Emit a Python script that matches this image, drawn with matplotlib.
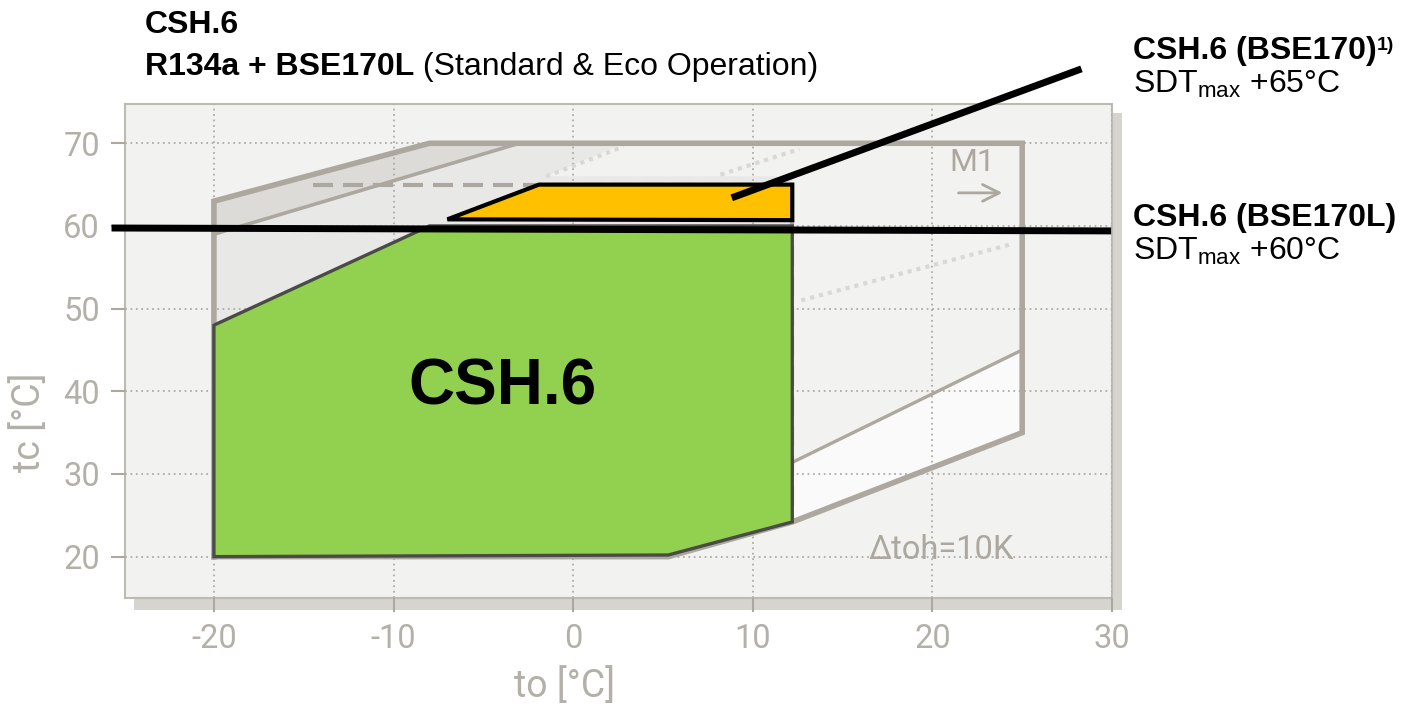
import matplotlib
matplotlib.use("Agg")
import matplotlib.pyplot as plt
from matplotlib.patches import Polygon, Rectangle

plt.rcParams["axes.unicode_minus"] = False
plt.rcParams["mathtext.fontset"] = "custom"
plt.rcParams["mathtext.rm"] = "Liberation Sans"
plt.rcParams["mathtext.bf"] = "Liberation Sans:bold"

# ===== Data =====
to_ticks = [-20, -10, 0, 10, 20, 30]
tc_ticks = [20, 30, 40, 50, 60, 70]

# outer application envelope (grey, M1)
env_to = [-20, -20, -8, 25, 25, 12.2, 5.3, -20]
env_tc = [20, 63, 70, 70, 35, 24.2, 20, 20]

# darker band along the upper-left border
band_to = [-20, -20, -8, -3]
band_tc = [59, 63, 70, 70]

# light grey inner area
light_to = [-20, -20, -3, 2.8, -1.5, 12.2, 12.2, 5.3]
light_tc = [20, 59, 70, 70, 66, 66, 24.2, 20]

# white band lower right
white_to = [12.2, 25, 25, 12.2]
white_tc = [24.2, 35, 45, 31.4]

# dashed limit (SDT 65)
dash_to = [-14.5, 12.2, 12.2]
dash_tc = [65, 65, 24.2]

# faint dotted lines
dot_segments = [([-1.5, 2.8], [66, 69.6]),
                ([8.2, 12.6], [66.2, 69.3]),
                ([12.7, 24.4], [51, 57.8])]

# CSH.6 with BSE170L (green)
green_to = [-20, -20, -8, 12.2, 12.2, 5.3]
green_tc = [20, 48, 60, 60, 24.2, 20.2]

# extension with BSE170 (orange)
orange_to = [-7, -1.9, 12.2, 12.2]
orange_tc = [60.8, 65, 65, 60.7]

# SDT max line and leader line
sdt_line_to = [-25.7, 29.95]
sdt_line_tc = [59.75, 59.4]
leader_to = [8.83, 28.3]
leader_tc = [63.4, 79.0]

# ===== Colours =====
GREY_LINE = "#aca89f"
GREY_TEXT = "#b3b0a9"
BG = "#f2f2f0"

fig = plt.figure(figsize=(14.05, 7.06), dpi=100)
W, H = 1405, 706

# drop shadow of the plot frame
shadow = Rectangle((134 / W, 1 - 610 / H), 988 / W, 497 / H,
                   transform=fig.transFigure, facecolor="#d6d4cf",
                   edgecolor="none", zorder=-1)
fig.patches.append(shadow)

ax = fig.add_axes([125 / W, 1 - 598 / H, 987 / W, 494 / H])
ax.set_facecolor(BG)
ax.set_xlim(-24.95, 29.9)
ax.set_ylim(15.0, 74.75)
ax.set_xticks(to_ticks)
ax.set_yticks(tc_ticks)
for s in ax.spines.values():
    s.set_color("#bdbab3")
    s.set_linewidth(1.5)

ax.set_axisbelow(False)
ax.grid(True, linestyle=(0, (1, 2)), color="#b0ada6", linewidth=1.3)
ax.tick_params(axis="both", length=10, width=1.5, color=GREY_LINE,
               labelcolor=GREY_TEXT, labelsize=23.5, pad=8)
for lab in ax.get_xticklabels() + ax.get_yticklabels():
    lab.set_fontfamily("Roboto")

ax.set_xlabel("to [°C]", fontsize=27, color=GREY_TEXT, family="Roboto")
ax.set_ylabel("tc [°C]", fontsize=27, color=GREY_TEXT, family="Roboto")
ax.xaxis.set_label_coords(0.4458, -0.140)
ax.yaxis.set_label_coords(-0.078, 0.356)

# grey background envelope
ax.add_patch(Polygon(list(zip(light_to, light_tc)), closed=True,
                     facecolor="#e8e8e6", edgecolor="none", zorder=1))
ax.add_patch(Polygon(list(zip(band_to, band_tc)), closed=True,
                     facecolor="#dcdbd7", edgecolor="none", zorder=1.2))
ax.add_patch(Polygon(list(zip(white_to, white_tc)), closed=True,
                     facecolor="#fafafa", edgecolor="none", zorder=1.2))
ax.plot(band_to[0::3], band_tc[0::3], color=GREY_LINE, lw=2.6, zorder=3)
ax.plot([white_to[0], white_to[2]], [white_tc[3], white_tc[2]],
        color=GREY_LINE, lw=2.4, zorder=3)
for xs, ys in dot_segments:
    ax.plot(xs, ys, color="#d9d8d4", lw=3, linestyle=(0, (1, 1.2)), zorder=3)
ax.plot(dash_to, dash_tc, color=GREY_LINE, lw=3, linestyle=(0, (4.8, 2.4)),
        zorder=3)
ax.plot(env_to, env_tc, color=GREY_LINE, lw=4, zorder=3.2,
        solid_joinstyle="miter")

ax.text(22.2, 67.7, "M1", fontsize=23, color=GREY_LINE, family="Roboto",
        ha="center", va="center", zorder=3)
ax.annotate("", xy=(24.05, 64.0), xytext=(21.3, 64.0),
            arrowprops=dict(arrowstyle="->", color=GREY_LINE, lw=2,
                            mutation_scale=30), zorder=3)
ax.text(20.5, 20.8, "Δtoh=10K", fontsize=23.5, color=GREY_LINE,
        family="Roboto", ha="center", va="center", zorder=3)

# operating ranges
ax.add_patch(Polygon(list(zip(green_to, green_tc)), closed=True,
                     facecolor="#92d050", edgecolor="#4a4a46", lw=2.4,
                     zorder=4))
ax.add_patch(Polygon(list(zip(orange_to, orange_tc)), closed=True,
                     facecolor="#ffc000", edgecolor="black", lw=3,
                     zorder=4))
ax.text(-3.94, 38.4, "CSH.6", fontsize=46, fontweight="bold",
        family="Liberation Sans", ha="center", va="baseline", zorder=5)

ax.plot(sdt_line_to, sdt_line_tc, color="black", lw=5, clip_on=False,
        solid_capstyle="butt", zorder=6)
ax.plot(leader_to, leader_tc, color="black", lw=5, clip_on=False,
        solid_capstyle="butt", zorder=6)

# ===== Annotations =====
FONT = "Liberation Sans"
fig.text(145 / W, 1 - 33 / H, "CSH.6", fontsize=23, fontweight="bold",
         family=FONT, va="baseline")
t2 = fig.text(145 / W, 1 - 75 / H, "R134a + BSE170L", fontsize=23,
              fontweight="bold", family=FONT, va="baseline")
ax.annotate(" (Standard & Eco Operation)", xy=(1, 0), xycoords=t2,
            fontsize=23, family=FONT, va="bottom", ha="left")

t3 = fig.text(1133 / W, 1 - 59 / H, "CSH.6 (BSE170)", fontsize=23,
              fontweight="bold", family=FONT, va="baseline")
ax.annotate("1)", xy=(1, 1), xycoords=t3, xytext=(0, -1),
            textcoords="offset points", fontsize=14, fontweight="bold",
            family=FONT, va="top", ha="left")
fig.text(1133 / W, 1 - 93 / H, r"SDT$_{\mathrm{max}}$ +65°C", fontsize=23,
         family=FONT, va="baseline")
fig.text(1133 / W, 1 - 226 / H, "CSH.6 (BSE170L)", fontsize=23,
         fontweight="bold", family=FONT, va="baseline")
fig.text(1133 / W, 1 - 260 / H, r"SDT$_{\mathrm{max}}$ +60°C", fontsize=23,
         family=FONT, va="baseline")

fig.savefig("out.png", dpi=100, facecolor="white")
